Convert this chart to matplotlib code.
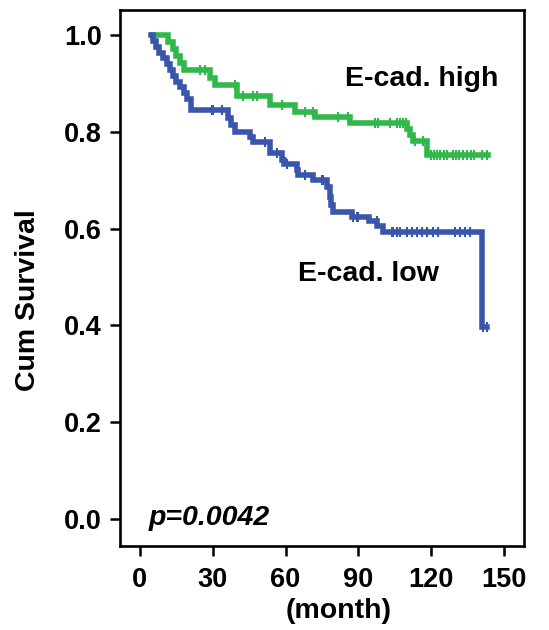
"""
Kaplan-Meier style survival plot, E-cadherin high vs low.
Saves out.png (549x630).
"""

import matplotlib
matplotlib.use("Agg")
import matplotlib.pyplot as plt

plt.rcParams["font.family"] = ["Liberation Sans", "DejaVu Sans"]
plt.rcParams["font.weight"] = "bold"

GREEN = "#31B84A"
BLUE = "#3A56AB"
BLACK = "#000000"

# E-cad. high: step times (month) and survival after each step
high_times = [5.4, 11.5, 13.5, 15.0, 16.5, 18.0, 28.8, 30.9, 40.0, 53.6, 63.9,
              72.1, 86.5, 110.0, 111.3, 112.5, 118.3, 143.4]
high_surv = [1.0, 0.986, 0.971, 0.957, 0.942, 0.928, 0.912, 0.897, 0.875, 0.856, 0.842,
             0.830, 0.818, 0.806, 0.794, 0.781, 0.7525, 0.7525]
high_censor = [24.7, 26.8, 39.1, 42.4, 46.6, 48.2, 58.5, 68.0, 71.3, 81.6, 85.7,
               96.8, 98.1, 103.0, 105.9, 107.1, 108.4, 109.6, 113.3, 116.6,
               119.8, 121.1, 122.5, 123.6, 125.3, 126.4, 128.9, 130.2, 131.6,
               133.0, 134.6, 136.3, 137.4, 140.8, 142.8]

# E-cad. low
low_times = [4.6, 5.2, 6.5, 8.0, 9.5, 11.0, 12.3, 13.7, 15.0, 16.5, 18.0, 19.5, 21.2,
             36.2, 37.7, 39.2, 45.3, 46.5, 53.6, 58.5, 59.4, 64.6, 65.3, 71.3, 77.0,
             78.3, 78.9, 79.6, 87.2, 94.2, 97.8, 100.3, 140.8, 142.9]
low_surv = [1.0, 0.988, 0.976, 0.964, 0.952, 0.940, 0.928, 0.916, 0.904, 0.892, 0.880,
            0.868, 0.846, 0.828, 0.815, 0.800, 0.790, 0.780, 0.756, 0.742, 0.734, 0.721,
            0.711, 0.700, 0.687, 0.666, 0.649, 0.635, 0.625, 0.616, 0.605, 0.593, 0.397,
            0.397]
low_censor = [29.5, 30.1, 33.7, 51.5, 56.3, 60.7, 68.0, 74.9, 75.5, 87.9, 89.3, 90.0,
              97.5, 103.7, 104.4, 105.8, 107.1, 109.9, 111.9, 114.0, 116.0, 118.1,
              120.8, 122.9, 129.8, 131.9, 133.9, 136.0, 141.3, 142.9]

x_ticks = [0, 30, 60, 90, 120, 150]
y_ticks = [0.0, 0.2, 0.4, 0.6, 0.8, 1.0]


def surv_at(times, surv, t):
    val = surv[0]
    for ti, si in zip(times, surv):
        if ti <= t:
            val = si
    return val


fig = plt.figure(figsize=(5.49, 6.30), dpi=100, facecolor="white")
ax = fig.add_axes([0.2186, 0.1333, 0.7359, 0.8508])

for times, surv, cens, color in [(high_times, high_surv, high_censor, GREEN),
                                 (low_times, low_surv, low_censor, BLUE)]:
    ax.step(times, surv, where="post", color=color, lw=4.0, solid_joinstyle="miter")
    cy = [surv_at(times, surv, t) for t in cens]
    ax.plot(cens, cy, ls="none", marker="|", ms=7.5, mew=1.5, color=color)

ax.set_xlim(-8.2, 158.2)
ax.set_ylim(-0.056, 1.052)
ax.set_xticks(x_ticks)
ax.set_yticks(y_ticks)
ax.set_yticklabels([f"{v:.1f}" for v in y_ticks])

for sp in ax.spines.values():
    sp.set_linewidth(1.9)
    sp.set_color(BLACK)
ax.tick_params(axis="both", direction="out", length=7, width=1.8, labelsize=19.5)
ax.tick_params(axis="x", pad=8)
ax.tick_params(axis="y", pad=6)

ax.text(84.5, 0.894, "E-cad. high", fontsize=20.5, fontweight="bold",
        va="baseline", ha="left")
ax.text(65.1, 0.491, "E-cad. low", fontsize=20.5, fontweight="bold",
        va="baseline", ha="left")
ax.text(3.5, -0.0124, "p=0.0042", fontsize=20.5, fontweight="bold", style="italic",
        va="baseline", ha="left")

fig.text(0.6175, 0.030, "(month)", fontsize=20.5, fontweight="bold",
         ha="center", va="center")
fig.text(0.051, 0.524, "Cum Survival", fontsize=20.5, fontweight="bold",
         ha="center", va="center", rotation=90)

fig.savefig("out.png", dpi=100, facecolor="white")
